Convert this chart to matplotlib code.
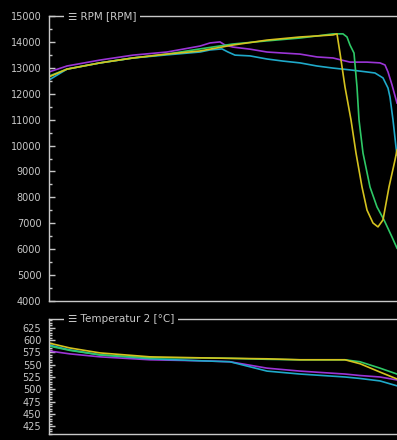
import numpy as np
import matplotlib
matplotlib.use("Agg")
import matplotlib.pyplot as plt
from matplotlib.ticker import MultipleLocator

# =============================
# DATA (time in samples, values read off the log viewer)
# =============================
rpm_purple_t = [0, 18, 51, 84, 118, 151, 161, 171, 176, 184, 201, 218, 234, 251, 268, 284, 301, 318, 331, 336, 339, 343, 348]
rpm_purple = [12840, 13070, 13300, 13490, 13610, 13840, 13960, 14000, 13880, 13800, 13720, 13610, 13570, 13530, 13420, 13380, 13220, 13220, 13190, 13110, 12840, 12340, 11640]

rpm_cyan_t = [0, 18, 51, 84, 118, 151, 161, 173, 179, 186, 201, 218, 234, 251, 268, 284, 301, 318, 326, 334, 339, 341, 344, 347, 348]
rpm_cyan = [12530, 12950, 13190, 13380, 13500, 13610, 13690, 13730, 13610, 13490, 13460, 13340, 13260, 13190, 13070, 12990, 12920, 12840, 12800, 12610, 12220, 11870, 10990, 9940, 9630]

rpm_green_t = [0, 18, 51, 84, 118, 151, 184, 218, 251, 268, 284, 294, 298, 301, 305, 308, 310, 314, 321, 328, 335, 343, 348]
rpm_green = [12680, 12950, 13190, 13380, 13530, 13730, 13920, 14040, 14150, 14230, 14310, 14310, 14190, 13880, 13570, 12260, 10990, 9710, 8400, 7630, 7130, 6470, 6040]

rpm_yellow_t = [0, 18, 51, 84, 118, 151, 184, 218, 251, 268, 284, 288, 291, 296, 302, 307, 313, 318, 324, 329, 334, 340, 346, 348]
rpm_yellow = [12650, 12950, 13190, 13380, 13530, 13650, 13880, 14070, 14190, 14230, 14270, 14310, 13570, 12260, 10990, 9710, 8400, 7510, 7010, 6860, 7130, 8400, 9440, 9830]

temp_t = [0, 21, 51, 101, 151, 181, 218, 251, 296, 311, 331, 348]
temp_yellow = [594, 584, 574, 566, 564, 563, 562, 560, 560, 552, 535, 521]
temp_green = [588, 579, 570, 564, 564, 563, 561, 560, 560, 556, 543, 531]
temp_cyan = [590, 580, 570, 562, 558, 556, 537, 531, 525, 522, 517, 507]
temp_purple = [578, 572, 566, 560, 558, 556, 543, 537, 531, 528, 525, 519]

colors = {"purple": "#9b35d6", "cyan": "#1fa9c9", "green": "#2ec866", "yellow": "#d4c21f"}
fg = "#c8c8c8"

# =============================
# FIGURE
# =============================
fig = plt.figure(figsize=(3.97, 4.40), dpi=100, facecolor="black")
ax1 = fig.add_axes([49 / 397, 139 / 440, 348 / 397, 285 / 440], facecolor="black")
ax2 = fig.add_axes([49 / 397, 6 / 440, 348 / 397, 115 / 440], facecolor="black")

lw = 1.2
ax1.plot(rpm_purple_t, rpm_purple, color=colors["purple"], lw=lw)
ax1.plot(rpm_cyan_t, rpm_cyan, color=colors["cyan"], lw=lw)
ax1.plot(rpm_green_t, rpm_green, color=colors["green"], lw=lw)
ax1.plot(rpm_yellow_t, rpm_yellow, color=colors["yellow"], lw=lw)

ax2.plot(temp_t, temp_purple, color=colors["purple"], lw=lw)
ax2.plot(temp_t, temp_cyan, color=colors["cyan"], lw=lw)
ax2.plot(temp_t, temp_green, color=colors["green"], lw=lw)
ax2.plot(temp_t, temp_yellow, color=colors["yellow"], lw=lw)

ax1.set_ylim(4000, 15000)
ax1.yaxis.set_major_locator(MultipleLocator(1000))
ax1.yaxis.set_minor_locator(MultipleLocator(500))
ax2.set_ylim(409, 643)
ax2.yaxis.set_major_locator(MultipleLocator(25))
ax2.yaxis.set_minor_locator(MultipleLocator(5))
ax2.set_yticks(range(425, 626, 25))

for ax, title in [(ax1, "\u2630 RPM [RPM]"), (ax2, "\u2630 Temperatur 2 [\u00b0C]")]:
    ax.set_xlim(0, 348)
    ax.set_xticks([])
    for s in ["left", "bottom", "top"]:
        ax.spines[s].set_color(fg)
        ax.spines[s].set_linewidth(1.0)
    ax.spines["right"].set_visible(False)
    ax.tick_params(axis="y", which="major", direction="in", length=4.3, width=1,
                   color=fg, labelcolor=fg, labelsize=7, pad=5.5)
    ax.tick_params(axis="y", which="minor", direction="in", length=2.2, width=1, color=fg)
    ax.text(19 / 348, 1.0, title, transform=ax.transAxes, color=fg, fontsize=7.5,
            ha="left", va="center", clip_on=False, zorder=5,
            bbox=dict(boxstyle="square,pad=0.35", fc="black", ec="none"))

plt.savefig("out.png", dpi=100, facecolor="black")
